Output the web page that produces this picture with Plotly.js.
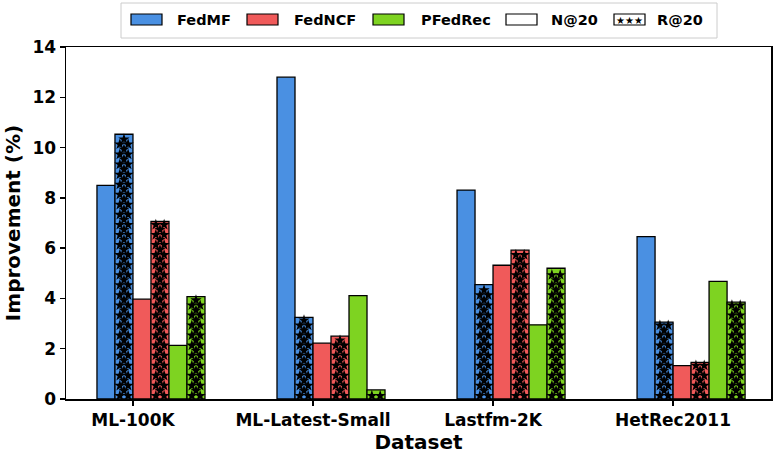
<!DOCTYPE html>
<html><head><meta charset="utf-8">
<script src="https://cdn.plot.ly/plotly-3.0.1.min.js"></script>
<style>body{margin:0;background:#fff}</style>
</head><body><div id="chart" style="width:777px;height:456px"></div>
<script>
// ---- data ----
const datasets = ['ML-100K', 'ML-Latest-Small', 'Lastfm-2K', 'HetRec2011'];
const methods = ['FedMF', 'FedNCF', 'PFedRec'];
const metrics = ['N@20', 'R@20'];
const fedmfN = [8.50, 12.80, 8.31, 6.46];
const fedmfR = [10.53, 3.25, 4.55, 3.06];
const fedncfN = [3.97, 2.22, 5.32, 1.33];
const fedncfR = [7.06, 2.50, 5.92, 1.46];
const pfedrecN = [2.13, 4.11, 2.95, 4.68];
const pfedrecR = [4.07, 0.36, 5.20, 3.85];

// ---- styles / layout constants ----
const colors = ['#4a90e2', '#f05a5a', '#7ed321'];
const FONT = 'DejaVu Sans, Liberation Sans, sans-serif';
const W = 0.1;
const L = 66, R = 771, T = 47, B = 399;
const px = v => (v - L) / (R - L);
const py = v => (B - v) / (B - T);

const series = [
  [fedmfN, fedmfR],
  [fedncfN, fedncfR],
  [pfedrecN, pfedrecR]
];
const xs = datasets.map((d, i) => i);

const traces = [];
const starX = [], starY = [];
series.forEach((pair, m) => {
  pair.forEach((vals, k) => {
    const idx = 2 * m + k;
    const off = -0.2 + idx * W;
    traces.push({
      type: 'bar', x: xs, y: vals, width: W, offset: off,
      marker: {color: colors[m], line: {color: '#000', width: 1.3}},
      showlegend: false, hoverinfo: 'skip'
    });
    if (k === 1) {
      vals.forEach((v, c) => {
        const xl = c + off;
        let row = 0;
        for (let y = 0.13; y <= v - 0.1; y += 0.2, row++) {
          const cols = row % 2 === 0 ? [0.27, 0.73] : [0.5];
          cols.forEach(f => { starX.push(xl + f * W); starY.push(y); });
        }
      });
    }
  });
});
traces.push({
  type: 'scatter', mode: 'markers', x: starX, y: starY,
  marker: {symbol: 'star', size: 8.5, color: '#000', line: {width: 0}},
  showlegend: false, hoverinfo: 'skip', cliponaxis: true
});

// ---- manual legend ----
const shapes = [{
  type: 'rect', xref: 'paper', yref: 'paper',
  x0: px(121), x1: px(717), y0: py(3), y1: py(38),
  line: {color: '#cccccc', width: 1}, fillcolor: '#ffffff', layer: 'above'
}];
const annotations = [];
const legItems = [
  {label: methods[0], fill: colors[0], x0: 131, tx: 175},
  {label: methods[1], fill: colors[1], x0: 247, tx: 292},
  {label: methods[2], fill: colors[2], x0: 373, tx: 419},
  {label: metrics[0], fill: '#ffffff', x0: 506, tx: 549},
  {label: metrics[1], fill: '#ffffff', x0: 614, tx: 655, star: true}
];
legItems.forEach(it => {
  shapes.push({
    type: 'rect', xref: 'paper', yref: 'paper',
    x0: px(it.x0), x1: px(it.x0 + 31), y0: py(14), y1: py(25),
    line: {color: '#000', width: 1.2}, fillcolor: it.fill, layer: 'above'
  });
  annotations.push({
    xref: 'paper', yref: 'paper', x: px(it.tx), y: py(19.5),
    xanchor: 'left', yanchor: 'middle', showarrow: false, text: it.label,
    font: {family: FONT, size: 14.5, color: '#000', weight: 'bold'}
  });
  if (it.star) {
    annotations.push({
      xref: 'paper', yref: 'paper', x: px(it.x0 + 15.5), y: py(20),
      xanchor: 'center', yanchor: 'middle', showarrow: false, text: '★★★',
      font: {family: FONT, size: 10, color: '#000'}
    });
  }
});

const layout = {
  width: 777, height: 456,
  margin: {l: L, r: 777 - R, t: T, b: 456 - B},
  paper_bgcolor: '#fff', plot_bgcolor: '#fff',
  barmode: 'overlay',
  font: {family: FONT, color: '#000'},
  xaxis: {
    range: [-0.372, 3.544], tickvals: xs, ticktext: datasets,
    ticks: 'outside', ticklen: 5, tickwidth: 1.5, tickcolor: '#000',
    showline: true, linecolor: '#000', linewidth: 1.5, mirror: true,
    showgrid: false, zeroline: false,
    tickfont: {family: FONT, size: 17, color: '#000', weight: 'bold'},
    title: {text: 'Dataset', standoff: 6, font: {family: FONT, size: 20, color: '#000', weight: 'bold'}}
  },
  yaxis: {
    range: [0, 14], dtick: 2, tick0: 0,
    ticks: 'outside', ticklen: 5, tickwidth: 1.5, tickcolor: '#000',
    showline: true, linecolor: '#000', linewidth: 1.5, mirror: true,
    showgrid: false, zeroline: false,
    tickfont: {family: FONT, size: 17, color: '#000', weight: 'bold'},
    title: {text: 'Improvement (%)', standoff: 6, font: {family: FONT, size: 20, color: '#000', weight: 'bold'}}
  },
  shapes: shapes,
  annotations: annotations,
  showlegend: false
};

Plotly.newPlot('chart', traces, layout, {displayModeBar: false, staticPlot: true});
</script>
</body></html>
